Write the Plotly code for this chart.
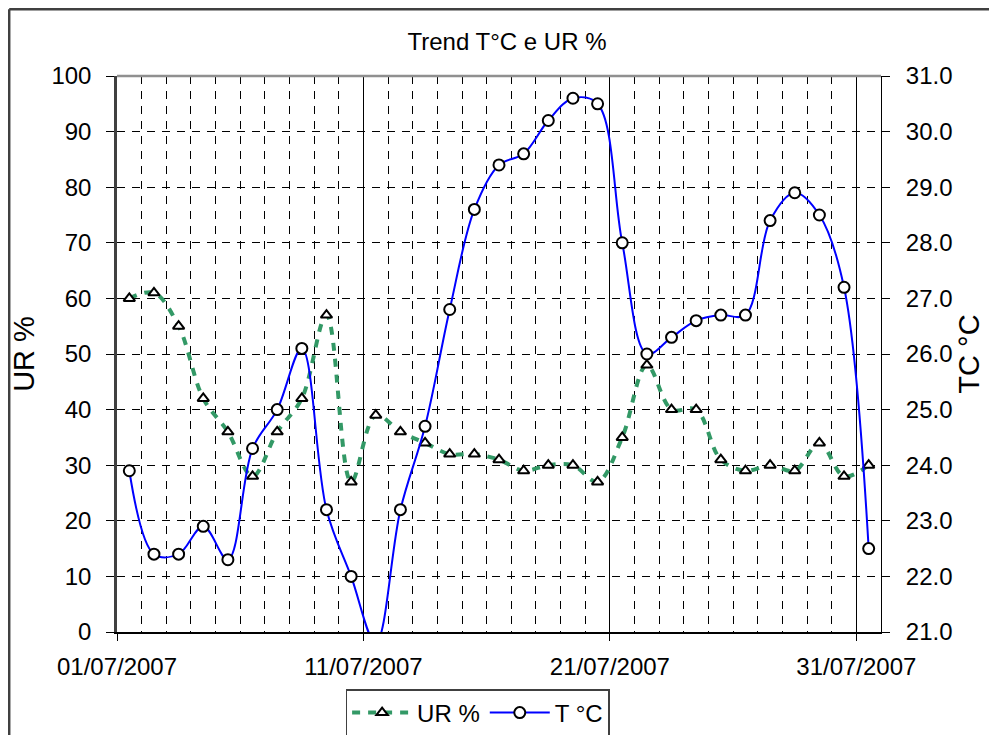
import plotly.graph_objects as go

# giorni di luglio 2007 (misura a mezzogiorno)
giorni = list(range(1, 32))
date = ["2007-07-%02d 12:00" % g for g in giorni]

ur = [60, 61, 55, 42, 36, 28, 36, 42, 57, 27,
      39, 36, 34, 32, 32, 31, 29, 30, 30, 27,
      35, 48, 40, 40, 31, 29, 30, 29, 34, 28, 30]

temp = [23.9, 22.4, 22.4, 22.9, 22.3, 24.3, 25.0, 26.1, 23.2, 22.0,
        20.8, 23.2, 24.7, 26.8, 28.6, 29.4, 29.6, 30.2, 30.6, 30.5,
        28.0, 26.0, 26.3, 26.6, 26.7, 26.7, 28.4, 28.9, 28.5, 27.2, 22.5]

font_fam = "Liberation Sans, Arial, sans-serif"
verde = "#339966"
blu = "#0000FF"

# la pagina ha 8px di margine: figura 989x727
W, H = 989, 727
ML, MT, PW, PH = 109, 68, 764, 556

fig = go.Figure()

fig.add_trace(go.Scatter(
    x=date, y=ur, name="UR %",
    mode="lines+markers",
    line=dict(color=verde, width=4, dash="8px,8px", shape="spline", smoothing=1),
    marker=dict(symbol="triangle-up", size=10, color="white",
                line=dict(color="black", width=2)),
))

fig.add_trace(go.Scatter(
    x=date, y=temp, name="T °C", yaxis="y2",
    mode="lines+markers",
    line=dict(color=blu, width=2, shape="spline", smoothing=1),
    marker=dict(symbol="circle", size=11, color="white",
                line=dict(color="black", width=2)),
))

fig.update_layout(
    width=W, height=H,
    margin=dict(l=ML, r=W - ML - PW, t=MT, b=H - MT - PH, autoexpand=False),
    paper_bgcolor="white",
    plot_bgcolor="white",
    font=dict(family=font_fam, size=24, color="black"),
    title=dict(text="Trend T°C e UR %", x=499 / W, xanchor="center",
               y=1 - 34 / H, yanchor="middle",
               font=dict(size=24)),
    showlegend=True,
    legend=dict(orientation="h", x=0.472, xanchor="center",
                y=-(713 - 8 - MT - PH) / PH, yanchor="middle",
                bordercolor="#404040", borderwidth=1.5,
                font=dict(size=24), itemwidth=60,
                tracegroupgap=0),
    xaxis=dict(
        type="date",
        range=["2007-07-01", "2007-08-01"],
        tick0="2007-07-01", dtick=10 * 86400000,
        tickformat="%d/%m/%Y",
        ticks="outside", ticklen=7, tickcolor="black",
        showline=True, linecolor="black", linewidth=1.5,
        showgrid=True, gridcolor="black", gridwidth=1,
        minor=dict(dtick=86400000, showgrid=True, gridcolor="black",
                   griddash="8px,7px", gridwidth=1, ticks=""),
        zeroline=False,
        ticklabelstandoff=5,
    ),
    yaxis=dict(
        range=[0, 100], dtick=10,
        title=dict(text="UR %", standoff=12),
        ticks="outside", ticklen=8, tickcolor="black",
        showline=True, linecolor="#404040", linewidth=2.5,
        showgrid=True, gridcolor="black", griddash="8px,7px", gridwidth=1,
        zeroline=False,
        ticklabelstandoff=10,
    ),
    yaxis2=dict(
        range=[21, 31], dtick=1, tickformat=".1f",
        overlaying="y", side="right",
        title=dict(text="TC °C", standoff=7),
        ticks="outside", ticklen=8, tickcolor="black",
        showline=True, linecolor="black", linewidth=1,
        showgrid=False, zeroline=False,
        ticklabelstandoff=11,
    ),
)

# bordo superiore dell'area del grafico
fig.add_shape(type="line", xref="paper", yref="paper",
              x0=0, x1=1, y0=1, y1=1,
              line=dict(color="#909090", width=2.5), layer="above")

# cornice esterna del grafico (bordo sinistro e superiore della figura)
fx = (1.2 - ML) / PW
fy = (PH + MT - 1.2) / PH
fig.add_shape(type="line", xref="paper", yref="paper",
              x0=fx, x1=fx, y0=-0.3, y1=fy,
              line=dict(color="#404040", width=2.5))
fig.add_shape(type="line", xref="paper", yref="paper",
              x0=fx, x1=1.3, y0=fy, y1=fy,
              line=dict(color="#404040", width=2.5))

fig.write_html("out.html")
